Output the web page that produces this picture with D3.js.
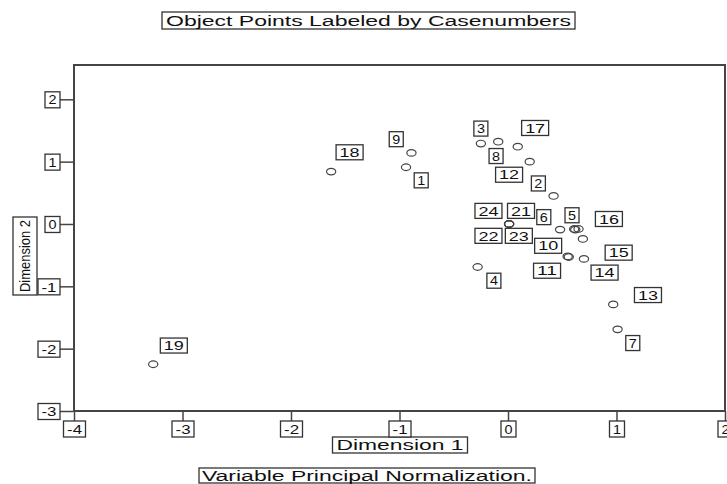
<!DOCTYPE html>
<html>
<head>
<meta charset="utf-8">
<script src="https://cdn.jsdelivr.net/npm/d3@7"></script>
<style>
  body { margin: 0; background: #fff; }
  svg { display: block; font-family: "Liberation Sans", Arial, sans-serif; }
</style>
</head>
<body>
<svg id="chart" width="727" height="484"></svg>
<script>
// object scores, one entry per case
var caseNumbers = [1, 2, 3, 4, 5, 6, 7, 8, 9, 10, 11, 12, 13, 14, 15, 16, 17, 18, 19, 20, 21, 22, 23, 24];
var dim1 = [-0.94, 0.42, -0.25, -0.28, 0.61, 0.48, 1.01, -0.09, -0.89, 0.55, 0.56, 0.20, 0.97, 0.70, 0.69, 0.65, 0.09, -1.63, -3.27, 0.62, 0.01, 0.01, 0.01, 0.01];
var dim2 = [0.91, 0.45, 1.29, -0.69, -0.08, -0.09, -1.69, 1.32, 1.14, -0.52, -0.53, 1.00, -1.29, -0.56, -0.24, -0.08, 1.24, 0.84, -2.25, -0.09, 0.00, 0.00, 0.00, 0.00];
// where SPSS put each case label (null = label hidden)
var labelDim1 = [-0.80, 0.28, -0.25, -0.13, 0.59, 0.33, 1.15, -0.11, -1.03, 0.37, 0.36, 0.01, 1.29, 0.89, 1.02, 0.93, 0.25, -1.46, -3.08, null, 0.12, -0.18, 0.10, -0.18];
var labelDim2 = [0.70, 0.65, 1.53, -0.91, 0.14, 0.11, -1.91, 1.09, 1.36, -0.35, -0.75, 0.79, -1.14, -0.78, -0.46, 0.08, 1.54, 1.15, -1.95, null, 0.21, -0.19, -0.19, 0.21];

var xTicks = [-4, -3, -2, -1, 0, 1, 2];
var yTicks = [-3, -2, -1, 0, 1, 2];

var titleText = "Object Points Labeled by Casenumbers";
var xTitle = "Dimension 1";
var yTitle = "Dimension 2";
var footText = "Variable Principal Normalization.";

// plot frame (window.top is read-only, so no "top" here)
var plotLeft = 74, plotRight = 725, plotTop = 65, plotBottom = 411;
var ink = "#333";

var svg = d3.select("#chart");

var x = d3.scaleLinear().domain([-4, 2]).range([plotLeft, plotRight]);
var y = d3.scaleLinear().domain([-3, 2]).range([plotBottom, 99.3]);

// draw a text inside a thin box, text stretched to fit
function boxed(g, cx, cy, w, h, txt, size, len) {
    g.append("rect")
        .attr("x", cx - w / 2).attr("y", cy - h / 2)
        .attr("width", w).attr("height", h)
        .attr("fill", "#fff").attr("stroke", ink).attr("stroke-width", 1.3);
    g.append("text")
        .attr("x", cx).attr("y", cy)
        .attr("dy", "0.36em")
        .attr("text-anchor", "middle")
        .attr("font-size", size)
        .attr("fill", "#111")
        .attr("textLength", len)
        .attr("lengthAdjust", "spacingAndGlyphs")
        .text(txt);
}

// title and footnote
boxed(svg, 368.5, 20.5, 413, 17, titleText, 14, 405);
boxed(svg, 400, 445, 135, 16, xTitle, 14, 127);
boxed(svg, 367, 475.5, 336, 15, footText, 14, 330);

var yt = svg.append("g").attr("transform", "translate(25,256) rotate(-90)");
boxed(yt, 0, 0, 78, 24, yTitle, 15, 72);

// frame
svg.append("rect")
    .attr("x", plotLeft).attr("y", plotTop)
    .attr("width", plotRight - plotLeft).attr("height", plotBottom - plotTop)
    .attr("fill", "none").attr("stroke", "#444").attr("stroke-width", 2);

// axes
var xAxis = svg.append("g")
    .attr("transform", "translate(0," + plotBottom + ")")
    .call(d3.axisBottom(x).tickValues(xTicks).tickSize(10)
        .tickFormat(function (d) { return String(d); }));
xAxis.select(".domain").remove();
xAxis.selectAll(".tick line").attr("stroke", "#444").attr("stroke-width", 1.5);
xAxis.selectAll(".tick").each(function (d) {
    var t = d3.select(this);
    t.select("text").remove();
    var w = d < 0 ? 22 : 15;
    boxed(t, 0, 18, w, 16, String(d), 13, d < 0 ? 15 : 8);
});

var yAxis = svg.append("g")
    .attr("transform", "translate(" + (plotLeft - 1) + ",0)")
    .call(d3.axisLeft(y).tickValues(yTicks).tickSize(13)
        .tickFormat(function (d) { return String(d); }));
yAxis.select(".domain").remove();
yAxis.selectAll(".tick line").attr("stroke", "#444").attr("stroke-width", 1.5);
yAxis.selectAll(".tick").each(function (d) {
    var t = d3.select(this);
    t.select("text").remove();
    var w = d < 0 ? 22 : 15;
    boxed(t, -13 - w / 2, 0, w, 16, String(d), 13, d < 0 ? 15 : 8);
});

// points
var cases = caseNumbers.map(function (c, i) {
    return { n: c, d1: dim1[i], d2: dim2[i], l1: labelDim1[i], l2: labelDim2[i] };
});

svg.append("g").selectAll("ellipse")
    .data(cases)
    .enter().append("ellipse")
    .attr("cx", function (d) { return x(d.d1); })
    .attr("cy", function (d) { return y(d.d2); })
    .attr("rx", 4.6).attr("ry", 3.3)
    .attr("fill", "none")
    .attr("stroke", "#444")
    .attr("stroke-width", 1.2);

// case labels
var lab = svg.append("g");
cases.filter(function (d) { return d.l1 !== null; }).forEach(function (d) {
    var s = String(d.n);
    var w = s.length > 1 ? 27 : 14;
    boxed(lab, x(d.l1), y(d.l2), w, 15, s, 13, s.length > 1 ? 20 : 8);
});
</script>
</body>
</html>
